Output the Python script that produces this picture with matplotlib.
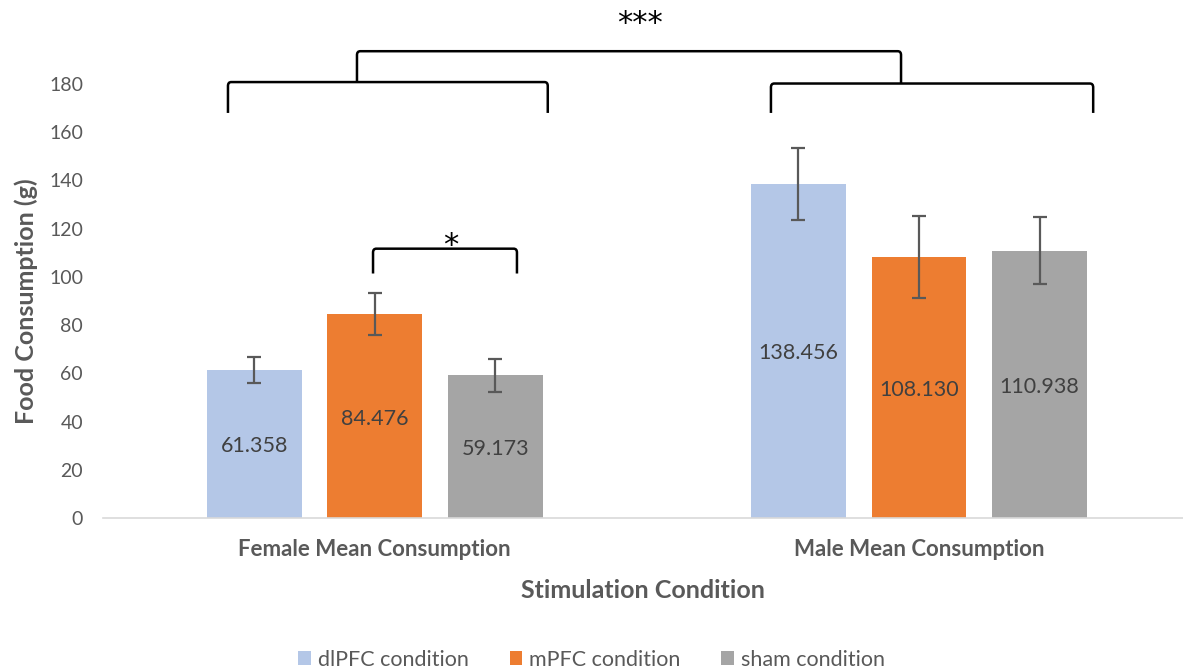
import numpy as np
import matplotlib.pyplot as plt
from matplotlib.path import Path
from matplotlib.patches import PathPatch

plt.rcParams['font.family'] = ['Lato', 'DejaVu Sans']

groups = ['Female Mean Consumption', 'Male Mean Consumption']
conditions = ['dlPFC condition', 'mPFC condition', 'sham condition']
means = [[61.358, 138.456],
         [84.476, 108.130],
         [59.173, 110.938]]
errors = [[5.3, 14.9],
          [8.7, 17.0],
          [6.9, 14.0]]
colors = ['#B4C7E7', '#ED7D31', '#A5A5A5']

text_gray = '#595959'


def bracket(ax, x0, x1, ytop, ybot0, ybot1=None, r=(0.006, 1.6), lw=1.8):
    # square bracket with softly rounded corners
    if ybot1 is None:
        ybot1 = ybot0
    rx, ry = r
    verts = [(x0, ybot0), (x0, ytop - ry), (x0, ytop), (x0 + rx, ytop),
             (x1 - rx, ytop), (x1, ytop), (x1, ytop - ry), (x1, ybot1)]
    codes = [Path.MOVETO, Path.LINETO, Path.CURVE3, Path.CURVE3,
             Path.LINETO, Path.CURVE3, Path.CURVE3, Path.LINETO]
    ax.add_patch(PathPatch(Path(verts, codes), fill=False, lw=lw,
                           edgecolor='black', clip_on=False,
                           capstyle='butt'))


fig = plt.figure(figsize=(11.83, 6.69), dpi=100)
ax = fig.add_axes([102.5 / 1183, 151 / 669, 1 - 102.5 / 1183, 434 / 669])

x = np.arange(len(groups))
width = 0.1745
step = 0.2214

for i, cond in enumerate(conditions):
    pos = x + (i - 1) * step
    ax.bar(pos, means[i], width, color=colors[i], label=cond, zorder=2)
    ax.errorbar(pos, means[i], yerr=errors[i], fmt='none', ecolor=text_gray,
                elinewidth=1.6, capsize=5, capthick=1.6, zorder=3)
    for xp, v in zip(pos, means[i]):
        ax.text(xp, v / 2 - 1, f'{v:.3f}', ha='center', va='center',
                fontsize=15.5, color='#404040', zorder=4)

ax.set_xlim(-0.5, 1.485)
ax.set_ylim(0, 180)
ax.set_yticks(range(0, 181, 20))
ax.set_xticks(x)
ax.set_xticklabels(groups, fontsize=16, fontweight='bold', color=text_gray)
ax.tick_params(axis='y', labelsize=14, labelcolor=text_gray, length=0, pad=14)
ax.tick_params(axis='x', length=0, pad=15)

for side in ['top', 'right', 'left']:
    ax.spines[side].set_visible(False)
ax.spines['bottom'].set_color('#D9D9D9')
ax.spines['bottom'].set_linewidth(1.2)

ax.set_ylabel('Food Consumption (g)', fontsize=18, fontweight='bold',
              color=text_gray, labelpad=8)
ax.set_xlabel('Stimulation Condition', fontsize=18, fontweight='bold',
              color=text_gray, labelpad=14)

# significance brackets
bracket(ax, -0.0030, 0.2614, 111.7, 101.4)
ax.text(0.1405, 113.0, '*', ha='center', va='center', fontsize=22,
        family='DejaVu Sans')
bracket(ax, -0.2695, 0.318, 180.8, 168.0)
bracket(ax, 0.728, 1.320, 180.2, 168.0)
bracket(ax, -0.0325, 0.967, 193.6, 180.8, 180.2)
ax.text(0.4870, 205.0, '***', ha='center', va='center', fontsize=22,
        family='DejaVu Sans')

leg = fig.legend(loc='lower center', bbox_to_anchor=(0.5, -0.03), ncol=3,
                 frameon=False, fontsize=15.5, handlelength=0.6,
                 handleheight=0.6, handletextpad=0.3, columnspacing=1.9)
for t in leg.get_texts():
    t.set_color(text_gray)

fig.savefig('out.png', dpi=100)
